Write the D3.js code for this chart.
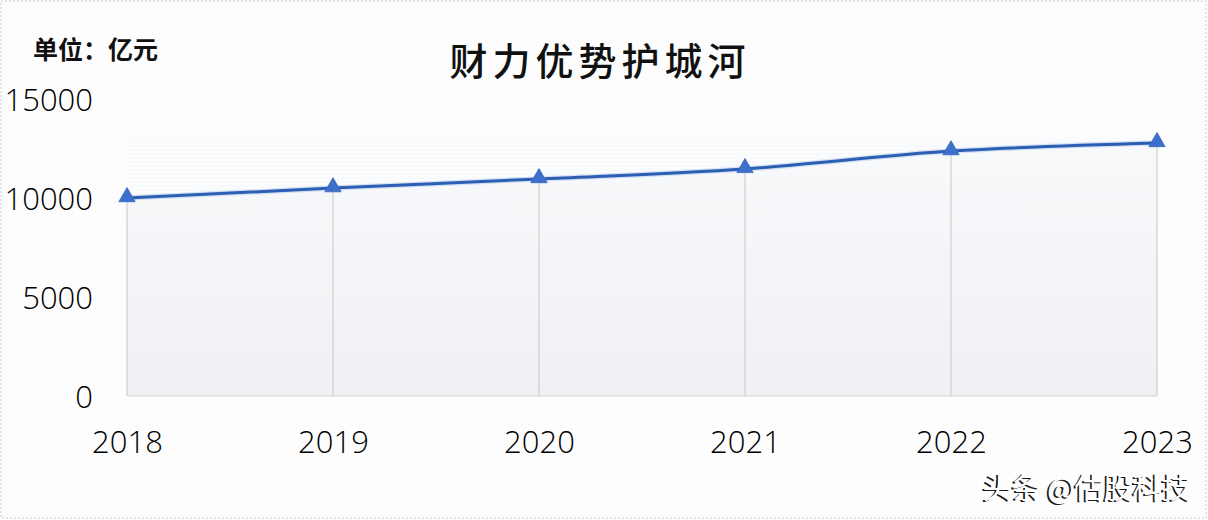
<!DOCTYPE html>
<html><head><meta charset="utf-8">
<script src="https://cdn.jsdelivr.net/npm/d3@7/dist/d3.min.js"></script>
<style>
html,body{margin:0;padding:0;background:#fff;}
svg{display:block;}
</style></head>
<body>
<svg id="chart" width="1208" height="520"></svg>
<script>
const years = ["2018","2019","2020","2021","2022","2023"];
const revenue = [10000, 10500, 10960, 11470, 12370, 12780];
const yTicks = [0, 5000, 10000, 15000];
const titleText = "财力优势护城河";
const unitText = "单位：亿元";
const watermark = "头条 @估股科技";

const W = 1208, H = 520;
const svg = d3.select("#chart");
const cjk = "'Noto Sans CJK SC','Noto Sans',sans-serif";
const num = "'Open Sans','Liberation Sans',sans-serif";

// background & dashed border
svg.append("rect").attr("x",0).attr("y",0).attr("width",W).attr("height",H).attr("fill","#fdfdfd");
svg.append("rect").attr("x",1).attr("y",1).attr("width",W-3).attr("height",H-3)
  .attr("fill","none").attr("stroke","#c9c9c9").attr("stroke-dasharray","2,2").attr("stroke-width",1);

const x = d3.scalePoint().domain(years).range([127, 1157]);
const y = d3.scaleLinear().domain([0, 15000]).range([396, 99]);

const defs = svg.append("defs");
const grad = defs.append("linearGradient").attr("id","ag").attr("x1",0).attr("y1",0).attr("x2",0).attr("y2",1);
grad.append("stop").attr("offset","0%").attr("stop-color","#f7f9fb");
grad.append("stop").attr("offset","100%").attr("stop-color","#edeff2");
const pat = defs.append("pattern").attr("id","dots").attr("width",4).attr("height",4).attr("patternUnits","userSpaceOnUse");
pat.append("rect").attr("width",4).attr("height",4).attr("fill","#fbfcfd");
pat.append("circle").attr("cx",2).attr("cy",2).attr("r",0.7).attr("fill","#eef0f3");

const data = years.map((yr,i)=>({yr, v: revenue[i]}));

// faint texture band
svg.append("rect").attr("x", x(years[0])).attr("y", 138)
  .attr("width", x(years[years.length-1]) - x(years[0])).attr("height", y(0) - 138)
  .attr("fill","url(#dots)");

// area under line
const area = d3.area().x(d=>x(d.yr)).y0(y(0)).y1(d=>y(d.v)).curve(d3.curveMonotoneX);
svg.append("path").datum(data).attr("d", area).attr("fill","url(#ag)").attr("opacity",0.9);

// drop lines
svg.append("g").selectAll("line").data(data).join("line")
  .attr("x1", d=>x(d.yr)).attr("x2", d=>x(d.yr))
  .attr("y1", d=>y(d.v)).attr("y2", y(0))
  .attr("stroke","#cfcfcf").attr("stroke-width",1.2);

// baseline
svg.append("line").attr("x1", x(years[0])).attr("x2", x(years[years.length-1]))
  .attr("y1", y(0)).attr("y2", y(0)).attr("stroke","#d2d2d2").attr("stroke-width",1.2);

// line
const line = d3.line().x(d=>x(d.yr)).y(d=>y(d.v)).curve(d3.curveMonotoneX);
svg.append("path").datum(data).attr("d", line).attr("fill","none")
  .attr("stroke","#a9c4ec").attr("stroke-width",5.5).attr("opacity",0.45);
svg.append("path").datum(data).attr("d", line).attr("fill","none")
  .attr("stroke","#2c5fb3").attr("stroke-width",3);

// triangles
const tri = d3.symbol().type(d3.symbolTriangle).size(115);
svg.append("g").selectAll("path").data(data).join("path")
  .attr("transform", d=>`translate(${x(d.yr)},${y(d.v)-1})`)
  .attr("d", tri).attr("fill","#3d6fcc").attr("stroke","#3464bd").attr("stroke-width",0.8);

// y axis
const yAxis = d3.axisLeft(y).tickValues(yTicks).tickSize(0).tickPadding(0).tickFormat(d3.format("d"));
const gy = svg.append("g").attr("transform","translate(93,0)").call(yAxis);
gy.select(".domain").remove();
gy.selectAll("text").attr("font-family",num).attr("font-size",31).attr("font-weight",300).attr("fill","#000")
  .attr("dy","0.36em").attr("text-anchor","end");

// x axis
const xAxis = d3.axisBottom(x).tickSize(0).tickPadding(0);
const gx = svg.append("g").attr("transform",`translate(0,${y(0)})`).call(xAxis);
gx.select(".domain").remove();
gx.selectAll("text").attr("font-family",num).attr("font-size",31).attr("font-weight",300).attr("fill","#000")
  .attr("y", 46).attr("dy","0.36em");

// title
svg.append("text").attr("x",600).attr("y",61).attr("dy","0.36em").attr("text-anchor","middle")
  .attr("font-family",cjk).attr("font-size",38).attr("font-weight",500)
  .attr("letter-spacing","5px").attr("fill","#111").text(titleText);

// unit
svg.append("text").attr("x",33).attr("y",50).attr("dy","0.36em")
  .attr("font-family",cjk).attr("font-size",25).attr("font-weight",700).attr("fill","#111").text(unitText);

// watermark (white text with dark shadow)
const wm = svg.append("g").attr("font-family",cjk).attr("font-size",29).attr("text-anchor","end");
wm.append("text").attr("x",1188.8).attr("y",489.2).attr("dy","0.36em").attr("fill","#1a1a1a").text(watermark);
wm.append("text").attr("x",1190.6).attr("y",488.2).attr("dy","0.36em").attr("fill","#ffffff").text(watermark);
</script>
</body></html>
